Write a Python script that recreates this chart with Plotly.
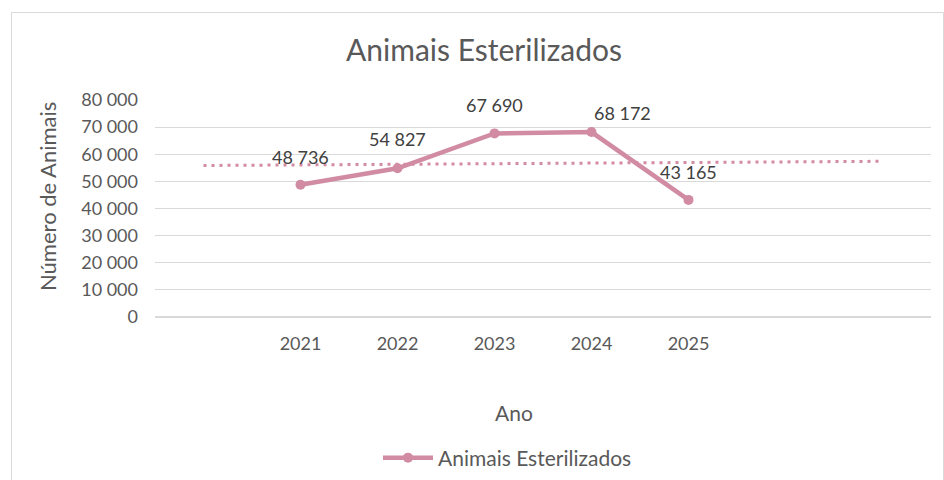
import numpy as np
import plotly.graph_objects as go

years = [2021, 2022, 2023, 2024, 2025]
values = [48736, 54827, 67690, 68172, 43165]
series_name = "Animais Esterilizados"
title_text = "Animais Esterilizados"
y_title = "Número de Animais"
x_title = "Ano"

# label offsets (style only)
label_xshift = [0, 0, 0, 31, 0]
label_yshift = [28, 29, 28, 19, 28]

LINE = "rgb(209,139,163)"
GRID = "#d9d9d9"
TXT = "#595959"
FONT = "Lato"

# linear trendline (1 period backward, 2 forward) computed from the data
slope, intercept = np.polyfit(years, values, 1)
trend_x = [years[0] - 1, years[-1] + 2]
trend_y = [slope * x + intercept for x in trend_x]

fig = go.Figure()
fig.add_trace(go.Scatter(
    x=trend_x, y=trend_y, mode="lines", showlegend=False, hoverinfo="skip",
    line=dict(color=LINE, width=3, dash="3px,5px"),
))
fig.add_trace(go.Scatter(
    x=years, y=values, mode="lines+markers", name=series_name,
    line=dict(color=LINE, width=4.5),
    marker=dict(color=LINE, size=10, symbol="circle"),
))

for x, v, dx, dy in zip(years, values, label_xshift, label_yshift):
    fig.add_annotation(
        x=x, y=v, xref="x", yref="y", text=f"{v:,}".replace(",", " "),
        showarrow=False, xshift=dx, yshift=dy, yanchor="middle",
        font=dict(family=FONT, size=18, color="#404040"),
    )

# axis titles
fig.add_annotation(x=(47 - 155) / 776, y=(317 - 197) / 217, xref="paper", yref="paper", text=y_title,
                   textangle=-90, showarrow=False, xanchor="center", yanchor="middle",
                   font=dict(family=FONT, size=22, color=TXT))
fig.add_annotation(x=(514 - 155) / 776, y=(317 - 412) / 217, xref="paper", yref="paper", text=x_title,
                   showarrow=False, xanchor="center", yanchor="middle",
                   font=dict(family=FONT, size=21, color=TXT))

# chart border
fig.add_shape(type="rect", xref="paper", yref="paper",
              x0=(11.5 - 155) / 776, x1=(943.5 - 155) / 776, y0=-0.8, y1=(317 - 12.5) / 217,
              line=dict(color=GRID, width=1), fillcolor="rgba(0,0,0,0)", layer="below")

fig.update_layout(
    width=944, height=480,
    margin=dict(l=155, r=13, t=100, b=163, autoexpand=False),
    paper_bgcolor="white", plot_bgcolor="white",
    separators=". ",
    title=dict(text=title_text, x=(484 / 944), xanchor="center", y=1 - 50 / 480, yanchor="middle",
               font=dict(family=FONT, size=30, color=TXT)),
    font=dict(family=FONT, color=TXT),
    showlegend=True,
    legend=dict(orientation="h", x=(378 - 155) / 776, xanchor="left", y=(317 - 458) / 217,
                yanchor="middle", itemwidth=50,
                font=dict(family=FONT, size=21, color=TXT), bgcolor="rgba(0,0,0,0)"),
    xaxis=dict(range=[years[0] - 1.5, years[-1] + 2.5], tickvals=years,
               ticktext=[str(y) for y in years], showgrid=False, zeroline=False,
               showline=False, ticks="", ticklabelstandoff=14,
               tickfont=dict(family=FONT, size=18, color=TXT), fixedrange=True),
    yaxis=dict(range=[0, 80000], dtick=10000, tickformat=",", showgrid=True,
               gridcolor=GRID, gridwidth=1, zeroline=True, zerolinecolor=GRID,
               showline=False, ticks="", ticklabelstandoff=16,
               tickfont=dict(family=FONT, size=18, color=TXT)),
)

fig.write_html("out.html", config={"displayModeBar": False},
               post_script="document.body.style.margin='0';document.body.style.overflow='hidden';")
